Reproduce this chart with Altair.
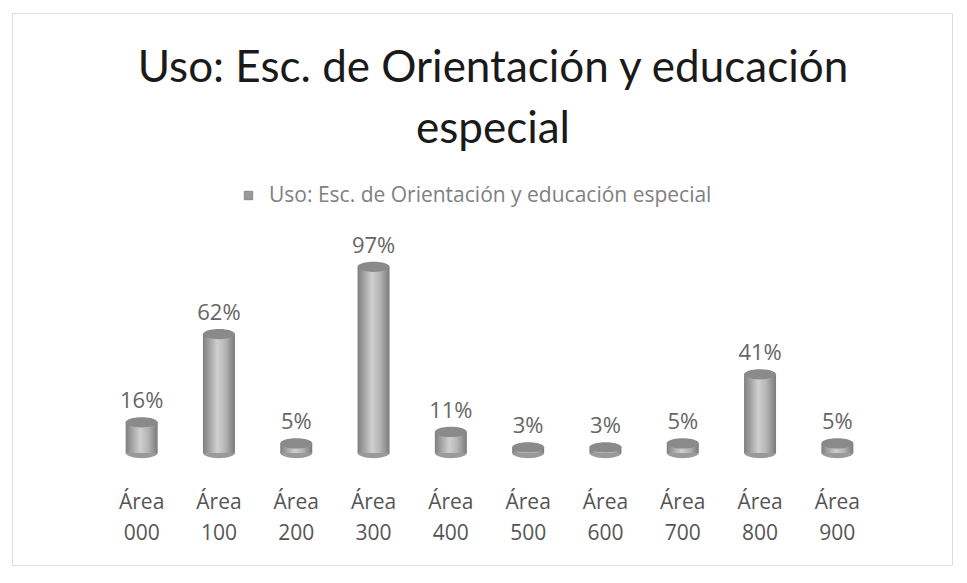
import altair as alt
import pandas as pd

# Data
categorias = ["Área 000", "Área 100", "Área 200", "Área 300", "Área 400",
              "Área 500", "Área 600", "Área 700", "Área 800", "Área 900"]
valores = [16, 62, 5, 97, 11, 3, 3, 5, 41, 5]
serie = "Uso: Esc. de Orientación y educación especial"
titulo = ["Uso: Esc. de Orientación y educación", "especial"]

df = pd.DataFrame({
    "cat": categorias,
    "valor": valores,
    "etiqueta": [f"{v}%" for v in valores],
    "serie": [serie] * len(categorias),
})

FONT = "Lato"
FONT2 = "Open Sans"

xenc = alt.X(
    "cat:N",
    sort=categorias,
    scale=alt.Scale(range=[91, 864], paddingInner=0, paddingOuter=0),
    axis=alt.Axis(
        title=None, domain=False, ticks=False, grid=False,
        labelExpr="split(datum.label, ' ')",
        labelFont=FONT2, labelFontSize=21, labelColor="#555555",
        labelLineHeight=31, labelPadding=38, labelAngle=0,
        offset=-112,
    ),
)
yscale = alt.Scale(domain=[-58.3, 229.2], nice=False, zero=False)

base = alt.Chart(df)

grad = alt.Gradient(
    gradient="linear",
    stops=[
        alt.GradientStop(color="#7f7f7f", offset=0),
        alt.GradientStop(color="#cfcfcf", offset=0.45),
        alt.GradientStop(color="#b5b5b5", offset=0.7),
        alt.GradientStop(color="#7a7a7a", offset=1),
    ],
    x1=0, x2=1, y1=0, y2=0,
)

ellipse = "M -1 0 A 1 0.32 0 1 0 1 0 A 1 0.32 0 1 0 -1 0 Z"

bottom = base.mark_point(shape=ellipse, size=1024, filled=True, opacity=1, strokeWidth=0).encode(
    x=xenc,
    y=alt.Y(datum=0, scale=yscale, axis=None),
    color=alt.Color(
        "serie:N",
        scale=alt.Scale(range=["#9a9a9a"]),
        legend=alt.Legend(
            title=None, orient="none", legendX=226, legendY=172,
            symbolType="square", symbolSize=70, symbolStrokeColor="#888888",
            symbolStrokeWidth=1, symbolFillColor="#c4c4c4",
            labelFont=FONT2, labelFontSize=21, labelColor="#808080",
            labelOffset=10, labelLimit=0, padding=0,
        ),
    ),
)

bars = base.mark_bar(size=32, color=grad).encode(
    x=xenc,
    y=alt.Y("valor:Q", scale=yscale, axis=None),
    y2=alt.Y2(datum=0),
)

top = base.mark_point(shape=ellipse, size=1024, filled=True, opacity=1, strokeWidth=0,
                      fill="#8a8a8a").encode(
    x=xenc,
    y=alt.Y("valor:Q", scale=yscale, axis=None),
)

labels = base.mark_text(dy=-21, font=FONT2, fontSize=22, color="#666666").encode(
    x=xenc,
    y=alt.Y("valor:Q", scale=yscale, axis=None),
    text="etiqueta:N",
)

chart = alt.layer(bottom, bars, top, labels).properties(
    width=940,
    height=552,
    padding={"left": 4, "top": 5, "right": 6, "bottom": 6},
    autosize=alt.AutoSizeParams(type="none"),
    title=alt.TitleParams(
        text=titulo, font=FONT, fontSize=44, fontWeight="normal", color="#1a1a1a",
        anchor="middle", frame="group", offset=-139, lineHeight=61, dx=11,
    ),
).configure_view(stroke="#d6d6d6", strokeWidth=2).configure(background="white")

chart.save("out.html", embed_options={"renderer": "svg", "actions": False})
